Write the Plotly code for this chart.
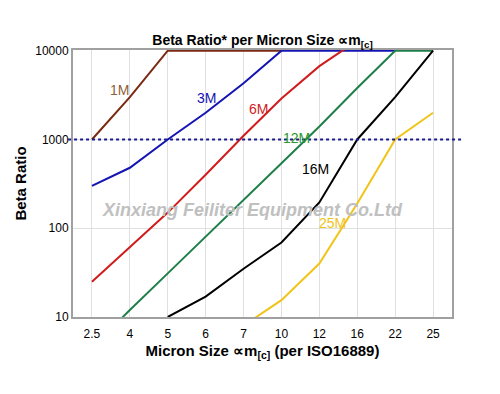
import math
import plotly.graph_objects as go

categories = ["2.5", "4", "5", "6", "7", "10", "12", "16", "22", "25"]

beta_1m = [1000, 3000, 10000, 10000, 10000, 10000, None, None, None, None]
beta_3m = [300, 480, 1000, 2000, 4300, 10000, 10000, 10000, 10000, None]
beta_6m = [25, 62, 150, 400, 1100, 2900, 6700, 13000, None, None]
beta_12m = [4.5, 12, 31, 81, 210, 540, 1400, 3800, 10000, 10000]
beta_16m = [None, None, 10, 17, 35, 69, 195, 1000, 3000, 10000]
beta_25m = [None, None, None, None, 8, 15.5, 40, 190, 1000, 2000]

series_names = ["1M", "3M", "6M", "12M", "16M", "25M"]
series_values = [beta_1m, beta_3m, beta_6m, beta_12m, beta_16m, beta_25m]
line_colors = ["#7a2a10", "#1414b4", "#d01c1c", "#1e8048", "#000000", "#f0c419"]
label_colors = ["#8c6239", "#1414b4", "#d01c1c", "#2a9a2a", "#000000", "#f0c419"]
# label anchor: (category, beta value, pixel x shift)
label_anchor = [("4", 3600, -10), ("6", 2950, 1), ("7", 2200, 15),
                ("10", 1050, 15), ("12", 470, -4), ("12", 115, 13)]

fig = go.Figure()
for name, vals, color in zip(series_names, series_values, line_colors):
    fig.add_trace(go.Scatter(x=categories, y=vals, mode="lines", name=name,
                             line=dict(color=color, width=2), connectgaps=False,
                             showlegend=False))

for name, lc, (cx, cv, dx) in zip(series_names, label_colors, label_anchor):
    fig.add_annotation(x=categories.index(cx), y=math.log10(cv), xref="x", yref="y",
                       text=name, showarrow=False, xshift=dx,
                       font=dict(family="Arial, Liberation Sans", size=14, color=lc))

fig.add_shape(type="line", xref="paper", yref="y", x0=-0.013, x1=1.029, y0=1000, y1=1000,
              line=dict(color="#1a1a8c", width=2, dash="dot"))

fig.add_annotation(x=0.474, y=0.40, xref="paper", yref="paper",
                   text="<b><i>Xinxiang Feiliter Equipment Co.Ltd</i></b>",
                   showarrow=False, font=dict(family="Arial, Liberation Sans", size=18, color="#c0c0c0"))

fig.update_layout(
    width=492, height=386,
    margin=dict(l=59, r=48, t=42, b=77),
    paper_bgcolor="white", plot_bgcolor="white",
    font=dict(family="Arial, Liberation Sans", size=12, color="black"),
    title=dict(text="<b>Beta Ratio* per Micron Size ∝m<sub>[c]</sub></b>", x=0.5, xref="paper",
               xanchor="center", y=1 - 32 / 386, yanchor="middle", font=dict(size=14, color="black")),
)
fig.update_xaxes(type="category", categoryorder="array", categoryarray=categories,
                 range=[-0.5, 9.5], showgrid=True, gridcolor="#e0e0e0", gridwidth=1,
                 showline=True, linecolor="#a0a0a0", linewidth=2, mirror=True,
                 ticks="", tickfont=dict(size=12), zeroline=False, ticklabelstandoff=5,
                 title=dict(text="<b>Micron Size ∝m<sub>[c]</sub> (per ISO16889)</b>",
                            font=dict(size=15), standoff=5))
fig.update_yaxes(type="log", range=[1, 4.008], tickvals=[10, 100, 1000, 10000],
                 ticktext=["10", "100", "1000", "10000"],
                 showgrid=True, gridcolor="#e0e0e0", gridwidth=1,
                 showline=True, linecolor="#a0a0a0", linewidth=2, mirror=True,
                 ticks="", tickfont=dict(size=12), zeroline=False,
                 title=dict(text="<b>Beta Ratio</b>", font=dict(size=15), standoff=5))

fig.write_html("out.html")
